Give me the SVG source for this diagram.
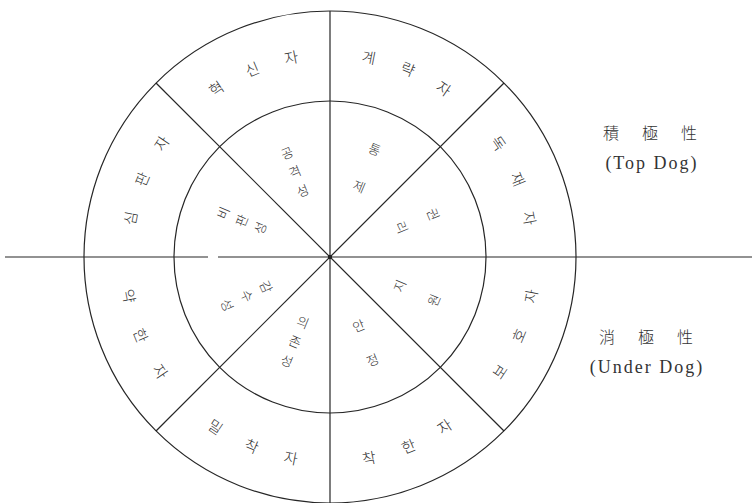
<svg xmlns="http://www.w3.org/2000/svg" width="752" height="503" viewBox="0 0 752 503">
<style>
.ln{fill:none;stroke:#262626;stroke-width:1.2}
.o{font-family:"Noto Sans CJK KR","Noto Sans CJK SC",sans-serif;font-size:15px;font-weight:300;fill:#333;text-anchor:middle;dominant-baseline:central}
.i{font-family:"Noto Sans CJK KR","Noto Sans CJK SC",sans-serif;font-size:13px;font-weight:300;fill:#333;text-anchor:middle;dominant-baseline:central}
.h{font-family:"Noto Sans CJK TC","Noto Sans CJK KR",serif;font-size:16px;font-weight:300;fill:#333;text-anchor:middle}
.e{font-family:"Liberation Serif",serif;font-size:18px;fill:#333;text-anchor:middle;letter-spacing:2px}
</style>
<rect width="752" height="503" fill="#fff"/>
<g id="frame">
<circle class="ln" cx="330" cy="257" r="246"/>
<circle class="ln" cx="330" cy="257" r="156"/>
</g>
<g id="connectors">
<line class="ln" x1="330" y1="11" x2="330" y2="503"/>
<line class="ln" x1="5" y1="257" x2="208" y2="257"/>
<line class="ln" x1="218" y1="257" x2="752" y2="257"/>
<line class="ln" x1="156" y1="83" x2="504" y2="431"/>
<line class="ln" x1="504" y1="83" x2="156" y2="431"/>
<rect x="328" y="255" width="4" height="4" fill="#222"/>
</g>
<g id="outer-simpanja">
<text class="o" transform="translate(129.7,218.1) rotate(-79)">심</text>
<text class="o" transform="translate(141.5,178.9) rotate(-67.5)">판</text>
<text class="o" transform="translate(160.9,142.9) rotate(-56)">자</text>
</g>
<g id="outer-hyeoksinja">
<text class="o" transform="translate(215.9,87.9) rotate(-34)">혁</text>
<text class="o" transform="translate(251.9,68.5) rotate(-22.5)">신</text>
<text class="o" transform="translate(291.1,56.8) rotate(-11)">자</text>
</g>
<g id="outer-gyeryakja">
<text class="o" transform="translate(368.9,56.8) rotate(11)">계</text>
<text class="o" transform="translate(408.1,68.5) rotate(22.5)">략</text>
<text class="o" transform="translate(444.1,87.9) rotate(34)">자</text>
</g>
<g id="outer-dokjaeja">
<text class="o" transform="translate(499.1,142.9) rotate(56)">독</text>
<text class="o" transform="translate(518.5,178.9) rotate(67.5)">재</text>
<text class="o" transform="translate(530.3,218.1) rotate(79)">자</text>
</g>
<g id="outer-bohoja">
<text class="o" transform="translate(499.1,371.1) rotate(-56)">보</text>
<text class="o" transform="translate(518.5,335.1) rotate(-67.5)">호</text>
<text class="o" transform="translate(530.3,295.9) rotate(-79)">자</text>
</g>
<g id="outer-chakhanja">
<text class="o" transform="translate(368.9,457.2) rotate(-11)">착</text>
<text class="o" transform="translate(408.1,445.5) rotate(-22.5)">한</text>
<text class="o" transform="translate(444.1,426.1) rotate(-34)">자</text>
</g>
<g id="outer-milchakja">
<text class="o" transform="translate(215.9,426.1) rotate(34)">밀</text>
<text class="o" transform="translate(251.9,445.5) rotate(22.5)">착</text>
<text class="o" transform="translate(291.1,457.2) rotate(11)">자</text>
</g>
<g id="outer-yakhanja">
<text class="o" transform="translate(129.7,295.9) rotate(79)">약</text>
<text class="o" transform="translate(141.5,335.1) rotate(67.5)">한</text>
<text class="o" transform="translate(160.9,371.1) rotate(56)">자</text>
</g>
<g id="inner-gonggyeokseong">
<text class="i" transform="translate(286.8,152.6) rotate(-22.5)">공</text>
<text class="i" transform="translate(294.6,171.5) rotate(-22.5)">격</text>
<text class="i" transform="translate(302.4,190.5) rotate(-22.5)">성</text>
</g>
<g id="inner-bipanseong">
<text class="i" transform="translate(222.8,212.6) rotate(-67.5)">비</text>
<text class="i" transform="translate(241.3,220.3) rotate(-67.5)">판</text>
<text class="i" transform="translate(259.8,227.9) rotate(-67.5)">성</text>
</g>
<g id="inner-tongje">
<text class="i" transform="translate(374.8,148.9) rotate(22.5)">통</text>
<text class="i" transform="translate(359.5,185.9) rotate(22.5)">제</text>
</g>
<g id="inner-gwonri">
<text class="i" transform="translate(433.5,214.1) rotate(67.5)">권</text>
<text class="i" transform="translate(402.1,227.1) rotate(67.5)">리</text>
</g>
<g id="inner-jiwon">
<text class="i" transform="translate(399.3,285.7) rotate(-67.5)">지</text>
<text class="i" transform="translate(433.5,299.9) rotate(-67.5)">원</text>
</g>
<g id="inner-anjeong">
<text class="i" transform="translate(358.3,325.4) rotate(-22.5)">안</text>
<text class="i" transform="translate(372.5,359.6) rotate(-22.5)">정</text>
</g>
<g id="inner-uijonseong">
<text class="i" transform="translate(303.2,321.7) rotate(22.5)">의</text>
<text class="i" transform="translate(295.2,341.1) rotate(22.5)">존</text>
<text class="i" transform="translate(287.1,360.5) rotate(22.5)">성</text>
</g>
<g id="inner-gamsuseong">
<text class="i" transform="translate(266.6,286.6) rotate(65)">감</text>
<text class="i" transform="translate(247.5,295.5) rotate(65)">수</text>
<text class="i" transform="translate(227.6,304.8) rotate(65)">성</text>
</g>
<g id="top-dog">
<text class="h" x="611" y="139">積</text>
<text class="h" x="650" y="139">極</text>
<text class="h" x="689" y="139">性</text>
<text class="e" x="652" y="169">(Top Dog)</text>
</g>
<g id="under-dog">
<text class="h" x="607" y="343">消</text>
<text class="h" x="646" y="343">極</text>
<text class="h" x="685" y="343">性</text>
<text class="e" x="647" y="373">(Under Dog)</text>
</g>
</svg>
